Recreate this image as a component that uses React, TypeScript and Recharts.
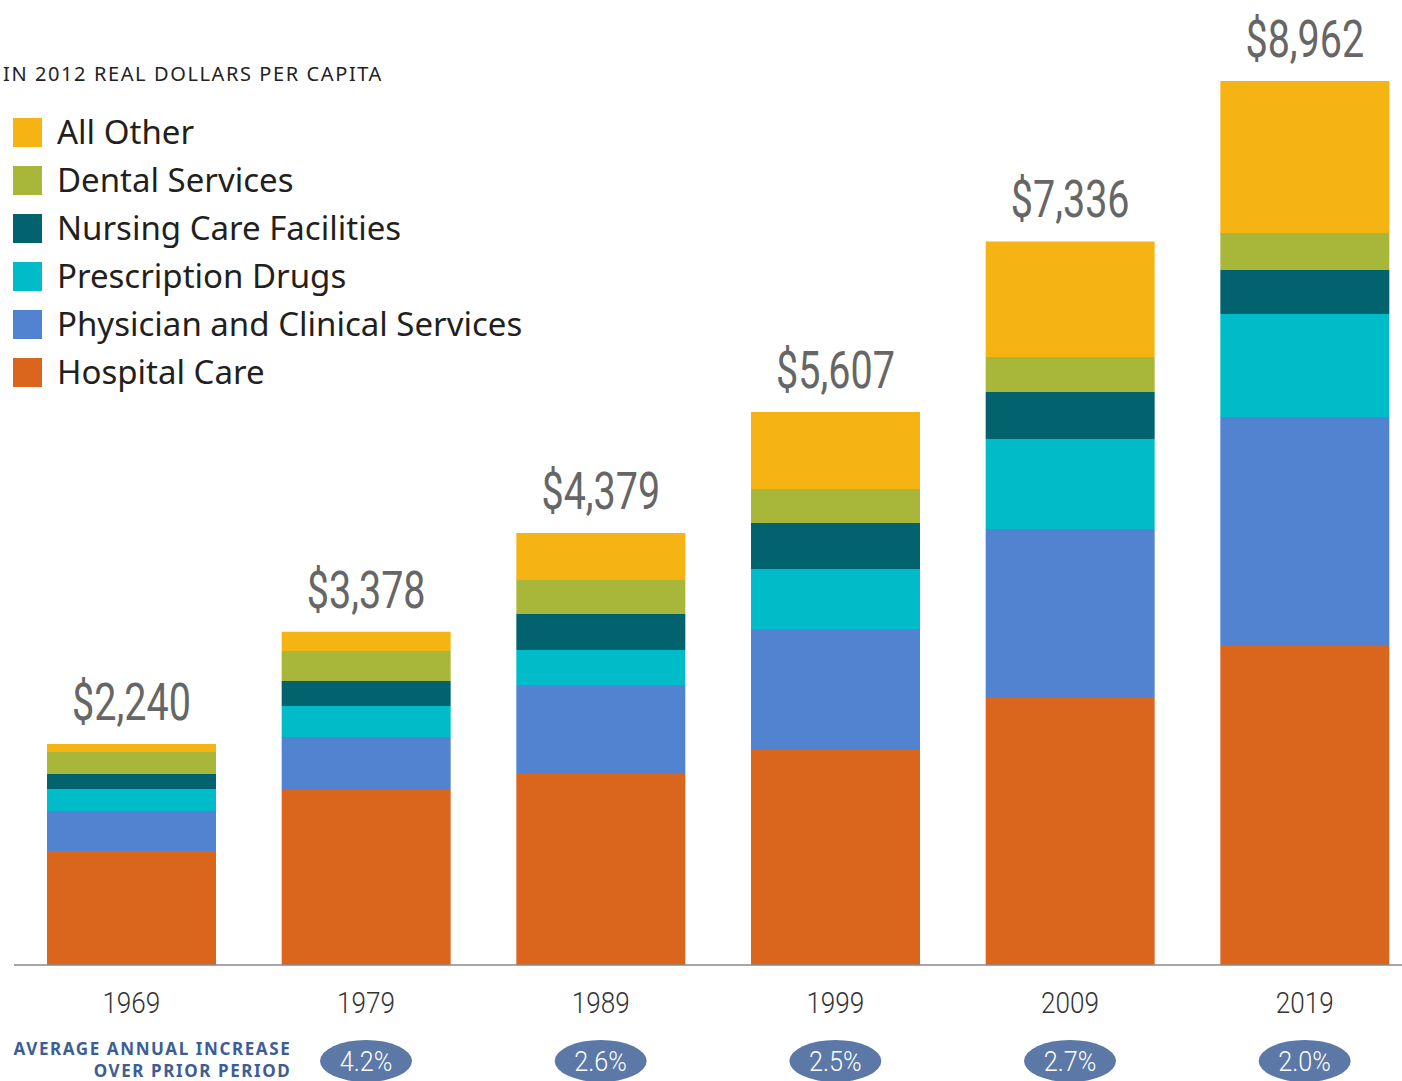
import { BarChart, Bar, XAxis, YAxis, LabelList } from 'recharts'

const years = ['1969', '1979', '1989', '1999', '2009', '2019']
const totals = [2240, 3378, 4379, 5607, 7336, 8962]
const increases = ['', '4.2%', '2.6%', '2.5%', '2.7%', '2.0%']

const hospitalCare = [1156, 1784, 1946, 2190, 2717, 3244]
const physicianClinical = [405, 527, 892, 1217, 1703, 2311]
const prescriptionDrugs = [223, 314, 355, 608, 912, 1044]
const nursingCare = [152, 253, 365, 466, 476, 446]
const dentalServices = [223, 305, 345, 345, 355, 375]
const allOther = [81, 195, 476, 781, 1173, 1542]

const series = [
  { key: 'hospital', name: 'Hospital Care', color: '#d9661c', values: hospitalCare },
  { key: 'physician', name: 'Physician and Clinical Services', color: '#5183d1', values: physicianClinical },
  { key: 'drugs', name: 'Prescription Drugs', color: '#00bcc9', values: prescriptionDrugs },
  { key: 'nursing', name: 'Nursing Care Facilities', color: '#02636e', values: nursingCare },
  { key: 'dental', name: 'Dental Services', color: '#a8b63a', values: dentalServices },
  { key: 'other', name: 'All Other', color: '#f5b414', values: allOther },
]

const data = years.map((year, i) => {
  const row: Record<string, string | number> = { year, total: totals[i], increase: increases[i] }
  series.forEach((s) => {
    row[s.key] = s.values[i]
  })
  return row
})

const thin = 'Roboto, "Noto Sans", sans-serif'
const body = '"Noto Sans", "Open Sans", sans-serif'

// narrow text by squeezing it horizontally around its anchor
const Squeezed = ({ x, y, sx, children, ...rest }: any) => (
  <g transform={`translate(${x},${y}) scale(${sx},1)`}>
    <text x={0} y={0} textAnchor="middle" {...rest}>
      {children}
    </text>
  </g>
)

const YearTick = ({ x, y, payload, index }: { x: number; y: number; payload: { value: string }; index: number }) => {
  const inc = increases[index]
  return (
    <g>
      <Squeezed x={x} y={y + 48} sx={0.9} fill="#333333" fontSize={29} fontWeight={300} fontFamily={thin}>
        {payload.value}
      </Squeezed>
      {index === 0 && (
        <text textAnchor="end" fill="#3d5d96" fontSize={17} fontWeight={700} fontFamily={body} letterSpacing={1.6}>
          <tspan x={x + 160} y={y + 90}>AVERAGE ANNUAL INCREASE</tspan>
          <tspan x={x + 160} y={y + 112}>OVER PRIOR PERIOD</tspan>
        </text>
      )}
      {inc && (
        <g>
          <ellipse cx={x} cy={y + 96} rx={46} ry={21} fill="#5b78a7" />
          <Squeezed x={x} y={y + 106} sx={0.9} fill="#ffffff" fontSize={28} fontWeight={300} fontFamily={thin}>
            {inc}
          </Squeezed>
        </g>
      )}
    </g>
  )
}

const TotalLabel = (props: { x?: number; y?: number; width?: number; value?: number }) => {
  const { x = 0, y = 0, width = 0, value = 0 } = props
  return (
    <Squeezed x={x + width / 2} y={y - 24} sx={0.76} fill="#666666" fontSize={52} fontFamily={thin}>
      ${value.toLocaleString('en-US')}
    </Squeezed>
  )
}

const LegendBlock = () => (
  <div style={{ position: 'absolute', left: 13, top: 62, fontFamily: body }}>
    <div style={{ fontSize: 20, letterSpacing: 1.6, color: '#222', marginLeft: -10, marginBottom: 22, lineHeight: '24px' }}>
      IN 2012 REAL DOLLARS PER CAPITA
    </div>
    {[...series].reverse().map((s) => (
      <div key={s.key} style={{ display: 'flex', alignItems: 'center', height: 48 }}>
        <span style={{ width: 29, height: 29, background: s.color, display: 'inline-block', marginRight: 15 }} />
        <span style={{ fontSize: 33, color: '#231f20', lineHeight: '48px' }}>{s.name}</span>
      </div>
    ))}
  </div>
)

export default function App() {
  return (
    <div style={{ position: 'absolute', left: 0, top: 0, width: 1402, height: 1081, overflow: 'hidden', background: '#fff' }}>
      <BarChart width={1422} height={1081} data={data} margin={{ top: 81, right: 0, left: 14, bottom: 0 }} barSize={169}>
        <XAxis
          dataKey="year"
          height={116}
          tickLine={false}
          tickSize={0}
          tickMargin={0}
          axisLine={{ stroke: '#8a8a8a', strokeWidth: 1.5 }}
          tick={(p: any) => <YearTick {...p} />}
          interval={0}
        />
        <YAxis hide domain={[0, 8962]} width={0} />
        {series.map((s, i) => (
          <Bar key={s.key} dataKey={s.key} name={s.name} stackId="a" fill={s.color} isAnimationActive={false}>
            {i === series.length - 1 && <LabelList dataKey="total" content={(p: any) => <TotalLabel {...p} />} />}
          </Bar>
        ))}
      </BarChart>
      <LegendBlock />
    </div>
  )
}
